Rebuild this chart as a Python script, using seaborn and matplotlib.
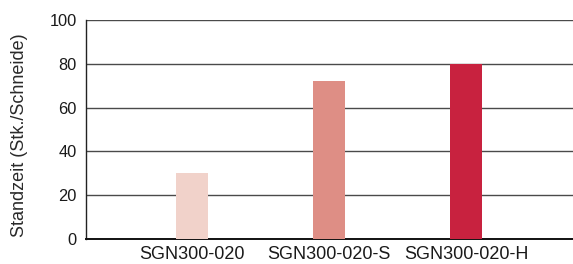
import matplotlib
matplotlib.use("Agg")
import matplotlib.pyplot as plt
import seaborn as sns
import pandas as pd

categories = ["SGN300-020", "SGN300-020-S", "SGN300-020-H"]
values = [30, 72, 80]
colors = ["#F1D2CA", "#DE8E85", "#C8223F"]
yticks = [0, 20, 40, 60, 80, 100]
ylabel = "Standzeit (Stk./Schneide)"

df = pd.DataFrame({"cat": categories, "val": values})

sns.set_style("white")
plt.rcParams["font.family"] = ["Liberation Sans", "DejaVu Sans"]

fig = plt.figure(figsize=(5.73, 2.64), dpi=100)
ax = fig.add_axes([0.150, 0.0947, 0.85, 0.8295])

sns.barplot(data=df, x="cat", y="val", hue="cat", palette=colors,
            width=0.234, legend=False, ax=ax, saturation=1, zorder=3,
            linewidth=0, edgecolor="none")

ax.set_ylim(0, 100)
ax.set_xlim(-0.774, 2.78)
ax.set_yticks(yticks)
ax.yaxis.grid(True, color="#4a4a4a", linewidth=1.0, zorder=0)
ax.set_axisbelow(True)
for s in ["top", "right"]:
    ax.spines[s].set_visible(False)
ax.spines["left"].set_color("#222222")
ax.spines["left"].set_linewidth(1.0)
ax.spines["bottom"].set_color("#111111")
ax.spines["bottom"].set_linewidth(1.4)

ax.tick_params(axis="y", length=0, pad=6.5, labelsize=11.8, labelcolor="#1a1a1a")
ax.tick_params(axis="x", length=0, pad=5, labelsize=13, labelcolor="#1a1a1a")
ax.set_xlabel("")
ax.set_ylabel(ylabel, fontsize=13, color="#2a2a2a")
ax.yaxis.set_label_coords(-0.12, 0.475)

fig.savefig("out.png", dpi=100)
